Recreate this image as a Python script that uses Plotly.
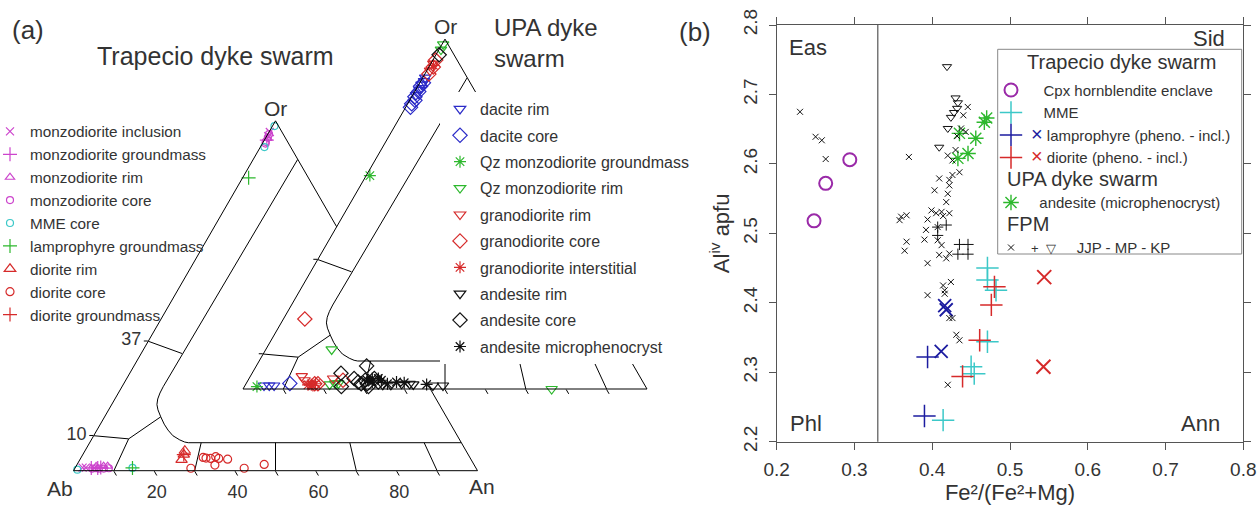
import plotly.graph_objects as go

W, H = 1258, 512
FONT = "Liberation Sans, Arial, sans-serif"
TXT = "#333333"

# ---------------- Panel (a): feldspar compositions (Or %, An %; Ab is the remainder) ----------------
# Trapecio dyke swarm
TR_MZ_INCL_OR = [96.8, 95.6, 0.9, 0.9, 0.7]
TR_MZ_INCL_AN = [0.2, 0.4, 1.8, 2.6, 4.8]
TR_MZ_GM_OR = [94.5, 0.8, 0.8, 0.9]
TR_MZ_GM_AN = [0.6, 4.0, 5.6, 6.3]
TR_MZ_RIM_OR = [95.0, 1.3, 1.3, 1.2]
TR_MZ_RIM_AN = [0.5, 6.8, 7.8, 5.0]
TR_MZ_CORE_OR = [94.0, 95.2, 96.2, 93.5, 0.6, 0.7, 0.6, 0.6, 0.7]
TR_MZ_CORE_AN = [0.6, 0.5, 0.3, 0.8, 4.4, 5.2, 6.0, 7.2, 8.4]
TR_MME_OR = [98.5, 92.5, 0.3, 0.8]
TR_MME_AN = [0.5, 1.0, 0.8, 14.2]
TR_LAMP_GM_OR = [83.7, 0.8]
TR_LAMP_GM_AN = [1.5, 14.2]
TR_DIO_RIM_OR = [5.7, 4.6, 3.1]
TR_DIO_RIM_AN = [24.7, 25.0, 25.2]
TR_DIO_CORE_OR = [0.7, 3.8, 3.6, 3.5, 4.0, 3.5, 1.6, 3.3, 0.7, 1.8]
TR_DIO_CORE_AN = [28.7, 30.2, 31.0, 32.2, 33.2, 34.2, 34.2, 36.5, 41.9, 46.3]
TR_DIO_GM_OR = [4.6]
TR_DIO_GM_AN = [25.0]

# UPA dyke swarm
UP_DAC_RIM_OR = [84.0, 85.5, 87.0, 88.0, 89.0, 86.0, 1.0, 1.0, 1.0]
UP_DAC_RIM_AN = [0.8, 0.9, 0.7, 0.8, 0.6, 1.2, 4.7, 6.0, 7.2]
UP_DAC_CORE_OR = [80.5, 81.5, 82.5, 83.5, 85.0, 86.5, 87.5, 1.6]
UP_DAC_CORE_AN = [1.2, 1.0, 1.3, 0.8, 1.0, 0.7, 0.9, 10.8]
UP_QZM_GM_OR = [61.0, 0.7]
UP_QZM_GM_AN = [0.9, 3.1]
UP_QZM_RIM_OR = [98.5, 97.0, 11.3, 1.3, 1.6, 1.6, 0.0]
UP_QZM_RIM_AN = [0.3, 0.5, 16.3, 20.8, 22.0, 22.8, 76.4]
UP_GRD_RIM_OR = [91.0, 93.0, 3.7, 2.5, 1.5, 3.0]
UP_GRD_RIM_AN = [0.8, 0.6, 12.7, 14.0, 15.5, 20.8]
UP_GRD_CORE_OR = [90.0, 92.0, 94.0, 20.0, 1.5, 1.5, 2.5]
UP_GRD_CORE_AN = [1.0, 1.1, 0.7, 5.3, 17.0, 17.8, 23.5]
UP_GRD_INT_OR = [92.5, 1.2, 1.2, 1.5, 1.0]
UP_GRD_INT_AN = [0.9, 15.5, 16.3, 17.2, 16.8]
UP_AND_RIM_OR = [1.2, 1.2, 1.5, 1.5, 1.0, 1.0, 1.3]
UP_AND_RIM_AN = [34.0, 36.0, 38.5, 40.5, 46.5, 49.0, 41.5]
UP_AND_CORE_OR = [95.5, 6.6, 0.7, 0.7, 4.5, 3.0, 2.0, 2.5, 1.5, 3.0, 2.0, 1.5]
UP_AND_CORE_AN = [0.8, 27.3, 30.7, 24.0, 22.0, 26.0, 27.5, 29.0, 30.0, 31.0, 32.5, 28.5]
UP_AND_MIC_OR = [2.5, 3.0, 2.0, 3.0, 2.5, 1.5, 2.0, 1.8, 1.3]
UP_AND_MIC_AN = [29.5, 30.5, 31.0, 32.0, 33.0, 35.0, 37.0, 39.0, 44.8]

# Feldspar classification field boundaries, polylines of (Or %, An %)
FIELD_LINES = [
    [(89, 11), (24, 10.2), (22.2, 10.3), (20.5, 10.6), (18.9, 11.2), (17.4, 12.2), (15.4, 13.9),
     (13.3, 15.8), (11.6, 17.6), (10.0, 19.6), (8.8, 21.9), (8.2, 23.4), (8.0, 24.4), (8.0, 92.0)],
    [(37, 0), (33.5, 10.1)],
    [(10, 0), (9.1, 9.1)],
    [(0, 10), (9.1, 9.1)],
    [(9.1, 9.1), (15.4, 13.9)],
    [(0, 30), (8, 27.6)],
    [(0, 50), (8, 46.0)],
    [(0, 70), (8, 64.4)],
    [(0, 90), (8, 82.8)],
]
OR_TICKS = [10, 37]
AN_TICKS = [10, 20, 30, 40, 50, 60, 70, 80, 90]
AN_TICK_LABELS = ["", "20", "", "40", "", "60", "", "80", ""]

# ---------------- Panel (b): biotite Al(iv) vs Fe2/(Fe2+Mg) ----------------
CPX_X = [0.248, 0.263, 0.294]
CPX_Y = [2.518, 2.572, 2.606]
MME_X = [0.471, 0.471, 0.482, 0.471, 0.450, 0.454, 0.414]
MME_Y = [2.450, 2.433, 2.418, 2.344, 2.308, 2.298, 2.231]
LAMP_PH_X = [0.394, 0.390]
LAMP_PH_Y = [2.322, 2.237]
LAMP_IN_X = [0.4115, 0.416, 0.418]
LAMP_IN_Y = [2.330, 2.396, 2.390]
DIO_PH_X = [0.480, 0.476, 0.461, 0.439]
DIO_PH_Y = [2.423, 2.397, 2.346, 2.294]
DIO_IN_X = [0.544, 0.543]
DIO_IN_Y = [2.437, 2.308]
UPA_AND_X = [0.467, 0.470, 0.435, 0.456, 0.446, 0.433]
UPA_AND_Y = [2.660, 2.666, 2.644, 2.637, 2.615, 2.608]
JJP_X = [0.230, 0.250, 0.258, 0.263, 0.370, 0.358, 0.360, 0.367, 0.3645, 0.367,
         0.390, 0.394, 0.399, 0.405, 0.412, 0.422, 0.414, 0.403, 0.422, 0.420,
         0.418, 0.409, 0.422, 0.426, 0.435, 0.420, 0.426, 0.4457, 0.437, 0.443,
         0.392, 0.407, 0.407, 0.412, 0.394, 0.409, 0.418, 0.422, 0.414, 0.424,
         0.416, 0.394, 0.416, 0.422, 0.426, 0.431, 0.435, 0.420, 0.430, 0.440, 0.432]
JJP_Y = [2.675, 2.639, 2.634, 2.607, 2.610, 2.519, 2.524, 2.526, 2.475, 2.488,
         2.491, 2.520, 2.533, 2.529, 2.531, 2.529, 2.525, 2.562, 2.569, 2.557,
         2.545, 2.579, 2.577, 2.584, 2.588, 2.612, 2.605, 2.682, 2.651, 2.646,
         2.505, 2.509, 2.490, 2.483, 2.457, 2.469, 2.464, 2.471, 2.425, 2.430,
         2.418, 2.411, 2.413, 2.378, 2.378, 2.354, 2.346, 2.282, 2.620, 2.670, 2.640]
MP_X = [0.407, 0.418, 0.435, 0.446, 0.433, 0.446, 0.407]
MP_Y = [2.509, 2.512, 2.484, 2.484, 2.470, 2.470, 2.497]
KP_X = [0.419, 0.430, 0.433, 0.428, 0.424, 0.432, 0.420, 0.409]
KP_Y = [2.740, 2.695, 2.688, 2.674, 2.667, 2.680, 2.651, 2.624]
EAS_SID_BOUNDARY = 0.33
X_TICKS = [0.2, 0.3, 0.4, 0.5, 0.6, 0.7, 0.8]
Y_TICKS = [2.2, 2.3, 2.4, 2.5, 2.6, 2.7, 2.8]

MAGENTA = "#cc44cc"
CYAN = "#3cc8c8"
GREEN = "#2db82d"
RED = "#d62a2a"
BLUE = "#2b2bc8"
DBLUE = "#1c1ca0"
PURPLE = "#9a2aa8"
BLACK = "#111111"


def px(x):
    return x / W


def py(y):
    return 1 - y / H


fig = go.Figure()


def tern(or_, an, name, symbol, color, size, subplot, legend, lw=1.2, group=None, showlegend=True):
    fig.add_trace(go.Scatterternary(
        a=or_, c=an, mode="markers", name=name, subplot=subplot, legend=legend,
        legendgroup=group or name, showlegend=showlegend,
        marker=dict(symbol=symbol, color=color, size=size, line=dict(width=lw, color=color)),
        cliponaxis=False, hoverinfo="skip"))


# field boundary lines for both ternaries
for sub in ["ternary", "ternary2"]:
    for line in FIELD_LINES:
        fig.add_trace(go.Scatterternary(
            a=[p[0] for p in line], c=[p[1] for p in line], mode="lines",
            line=dict(color="black", width=1), showlegend=False, hoverinfo="skip",
            subplot=sub, cliponaxis=False))

# Trapecio (left ternary)
T1 = ("ternary", "legend")
tern(TR_MZ_INCL_OR, TR_MZ_INCL_AN, "monzodiorite inclusion", "x-thin-open", MAGENTA, 8, *T1)
tern(TR_MZ_GM_OR, TR_MZ_GM_AN, "monzodiorite groundmass", "cross-thin-open", MAGENTA, 10, *T1)
tern(TR_MZ_RIM_OR, TR_MZ_RIM_AN, "monzodiorite rim", "triangle-up-open", MAGENTA, 8, *T1)
tern(TR_MZ_CORE_OR, TR_MZ_CORE_AN, "monzodiorite core", "circle-open", MAGENTA, 7, *T1)
tern(TR_MME_OR, TR_MME_AN, "MME core", "circle-open", CYAN, 7, *T1)
tern(TR_LAMP_GM_OR, TR_LAMP_GM_AN, "lamprophyre groundmass", "cross-thin-open", GREEN, 10, *T1)
tern(TR_DIO_RIM_OR, TR_DIO_RIM_AN, "diorite rim", "triangle-up-open", RED, 10, *T1)
tern(TR_DIO_CORE_OR, TR_DIO_CORE_AN, "diorite core", "circle-open", RED, 8, *T1)
tern(TR_DIO_GM_OR, TR_DIO_GM_AN, "diorite groundmass", "cross-thin-open", RED, 10, *T1)

# UPA (right ternary)
T2 = ("ternary2", "legend2")
tern(UP_DAC_RIM_OR, UP_DAC_RIM_AN, "dacite rim", "triangle-down-open", BLUE, 10, *T2)
tern(UP_DAC_CORE_OR, UP_DAC_CORE_AN, "dacite core", "diamond-open", BLUE, 11, *T2)
tern(UP_QZM_GM_OR, UP_QZM_GM_AN, "Qz monzodiorite groundmass", "asterisk-open", GREEN, 10, *T2)
tern(UP_QZM_RIM_OR, UP_QZM_RIM_AN, "Qz monzodiorite rim", "triangle-down-open", GREEN, 10, *T2)
tern(UP_GRD_RIM_OR, UP_GRD_RIM_AN, "granodiorite rim", "triangle-down-open", RED, 10, *T2)
tern(UP_GRD_CORE_OR, UP_GRD_CORE_AN, "granodiorite core", "diamond-open", RED, 11, *T2)
tern(UP_GRD_INT_OR, UP_GRD_INT_AN, "granodiorite interstitial", "asterisk-open", RED, 10, *T2)
tern(UP_AND_RIM_OR, UP_AND_RIM_AN, "andesite rim", "triangle-down-open", BLACK, 10, *T2)
tern(UP_AND_CORE_OR, UP_AND_CORE_AN, "andesite core", "diamond-open", BLACK, 11, *T2)
tern(UP_AND_MIC_OR, UP_AND_MIC_AN, "andesite microphenocryst", "asterisk-open", BLACK, 10, *T2)


# ---------------- panel (b) traces ----------------
NB = "\u00a0"


def big(text):
    return "<span style='font-size:20px'>" + NB * 2 + text + "</span>"


def sc(x, y, name, symbol, color, size, group, lw=1.4, showlegend=True, gtitle=None):
    fig.add_trace(go.Scatter(
        x=x, y=y, mode="markers", name=name, legend="legend3", legendgroup=group,
        showlegend=showlegend,
        legendgrouptitle=dict(text=big(gtitle), font=dict(size=15, color=TXT)) if gtitle else None,
        marker=dict(symbol=symbol, color=color, size=size, line=dict(width=lw, color=color)),
        hoverinfo="skip", cliponaxis=False))


sc(CPX_X, CPX_Y, NB * 3 + "Cpx hornblendite enclave", "circle-open", PURPLE, 13, "trap", lw=2)
sc(MME_X, MME_Y, NB * 3 + "MME", "cross-thin-open", CYAN, 16, "trap", lw=1.5)
sc(LAMP_PH_X, LAMP_PH_Y,
   "<span style='color:%s;font-size:20px'>×</span> lamprophyre (pheno. - incl.)" % DBLUE,
   "cross-thin-open", DBLUE, 16, "trap", lw=1.5)
sc(LAMP_IN_X, LAMP_IN_Y, "lamprophyre incl.", "x-thin-open", DBLUE, 13, "trap", lw=1.8, showlegend=False)
sc(DIO_PH_X, DIO_PH_Y,
   "<span style='color:%s;font-size:20px'>×</span> diorite (pheno. - incl.)" % RED,
   "cross-thin-open", RED, 16, "trap", lw=1.5)
sc(DIO_IN_X, DIO_IN_Y, "diorite incl.", "x-thin-open", RED, 14, "trap", lw=2, showlegend=False)
sc(UPA_AND_X, UPA_AND_Y, NB * 2 + "andesite (microphenocryst)", "asterisk-open", GREEN, 13, "upa",
   gtitle="UPA dyke swarm")
sc(JJP_X, JJP_Y,
   "<span style='font-size:13px'>+" + NB * 2 + "▽</span>" + NB * 5 + "JJP - MP - KP",
   "x-thin-open", BLACK, 6, "fpm", lw=1, gtitle="FPM")
sc(MP_X, MP_Y, "MP", "cross-thin-open", BLACK, 8, "fpm", lw=1, showlegend=False)
sc(KP_X, KP_Y, "KP", "triangle-down-open", BLACK, 8, "fpm", lw=1, showlegend=False)

# Eas/Sid boundary
fig.add_shape(type="line", xref="x", yref="y domain", x0=EAS_SID_BOUNDARY, x1=EAS_SID_BOUNDARY,
              y0=0, y1=1, line=dict(color="#555555", width=1.2))
# legend box of panel (b)
fig.add_shape(type="rect", xref="paper", yref="paper", x0=px(997.7), x1=px(1241.7),
              y0=py(254), y1=py(49.3), line=dict(color="#888888", width=1),
              fillcolor="white", layer="above")


# ---------------- layout ----------------
def tern_domain(ab_x, base_y, width):
    h = width * 3 ** 0.5 / 2
    cy = base_y - h / 2
    half = (h + 12) / 2
    return dict(x=[px(ab_x), px(ab_x + width)], y=[py(cy + half), py(cy - half)])


def tern_axes(labels):
    common = dict(showgrid=False, showline=True, linecolor="black", linewidth=1,
                  tickcolor="black", tickwidth=1, title=dict(text=""),
                  tickfont=dict(size=18, color=TXT, family=FONT))
    a = dict(common, ticks="outside", ticklen=4, tickmode="array", tickvals=OR_TICKS,
             ticktext=[str(v) for v in OR_TICKS], showticklabels=labels)
    b = dict(common, ticks="outside", ticklen=5, tickmode="array",
             tickvals=[100 - v for v in AN_TICKS], ticktext=AN_TICK_LABELS, showticklabels=labels)
    c = dict(common, ticks="", showticklabels=False)
    return a, b, c


a1, b1, c1 = tern_axes(True)
a2, b2, c2 = tern_axes(False)

axis_common = dict(showline=True, mirror="ticks", linecolor="#555555", linewidth=1.2,
                   ticks="outside", ticklen=7, tickcolor="#555555", showgrid=False,
                   zeroline=False, automargin=False,
                   tickfont=dict(size=19, color=TXT, family=FONT))

fig.update_layout(
    width=W, height=H, margin=dict(l=0, r=0, t=0, b=0, autoexpand=False),
    paper_bgcolor="white", plot_bgcolor="white", hovermode=False,
    font=dict(family=FONT, color=TXT),
    ternary=dict(sum=100, domain=tern_domain(73.5, 470.7, 404), bgcolor="rgba(0,0,0,0)",
                 aaxis=a1, baxis=b1, caxis=c1),
    ternary2=dict(sum=100, domain=tern_domain(243, 389, 404), bgcolor="white",
                  aaxis=a2, baxis=b2, caxis=c2),
    xaxis=dict(axis_common, domain=[px(776.7), px(1243.3)], range=[0.2, 0.8],
               tickvals=X_TICKS, ticktext=[f"{v:.1f}" for v in X_TICKS], ticklabelstandoff=3,
               title=dict(text="Fe²/(Fe²+Mg)", font=dict(size=22, color=TXT), standoff=4)),
    yaxis=dict(axis_common, domain=[py(441.7), py(25)], range=[2.2, 2.8],
               tickvals=Y_TICKS, ticktext=[f"{v:.1f}" for v in Y_TICKS], tickangle=-90,
               ticklabelstandoff=4,
               title=dict(text="Al<sup>iv</sup> apfu", font=dict(size=22, color=TXT), standoff=4)),
    legend=dict(x=px(-10), y=py(115), xanchor="left", yanchor="top", bgcolor="rgba(0,0,0,0)",
                borderwidth=0, font=dict(size=15.3, color=TXT), tracegroupgap=0),
    legend2=dict(x=px(440), y=py(92), xanchor="left", yanchor="top", bgcolor="white",
                 borderwidth=0, font=dict(size=16, color=TXT), tracegroupgap=2.6),
    legend3=dict(x=px(991), y=py(73.75), xanchor="left", yanchor="top", bgcolor="rgba(0,0,0,0)",
                 borderwidth=0, font=dict(size=15, color=TXT), tracegroupgap=0),
)


def note(text, x, y, size, xref="paper", yref="paper", xanchor="center", align="center"):
    fig.add_annotation(text=text, x=x, y=y, xref=xref, yref=yref, showarrow=False,
                       xanchor=xanchor, yanchor="middle", align=align,
                       font=dict(size=size, color=TXT, family=FONT))


note("(a)", px(28), py(30), 26)
note("Trapecio dyke swarm", px(215), py(56), 25)
note("UPA dyke<br>swarm", px(492), py(43), 24, xanchor="left", align="left")
note("Or", px(275), py(108), 21)
note("Ab", px(60), py(488), 21)
note("An", px(482), py(486), 21)
note("Or", px(445), py(26), 21)
note("(b)", px(695), py(32), 26)
note("Eas", 0.2401, 2.768, 22, "x", "y")
note("Sid", 0.756, 2.7800, 22, "x", "y")
note("Phl", 0.2382, 2.226, 22, "x", "y")
note("Ann", 0.7453, 2.226, 22, "x", "y")
note("Trapecio dyke swarm", px(1121), py(62), 20)

fig.write_html("out.html", config={"displayModeBar": False},
               post_script="document.body.style.margin='0';")
